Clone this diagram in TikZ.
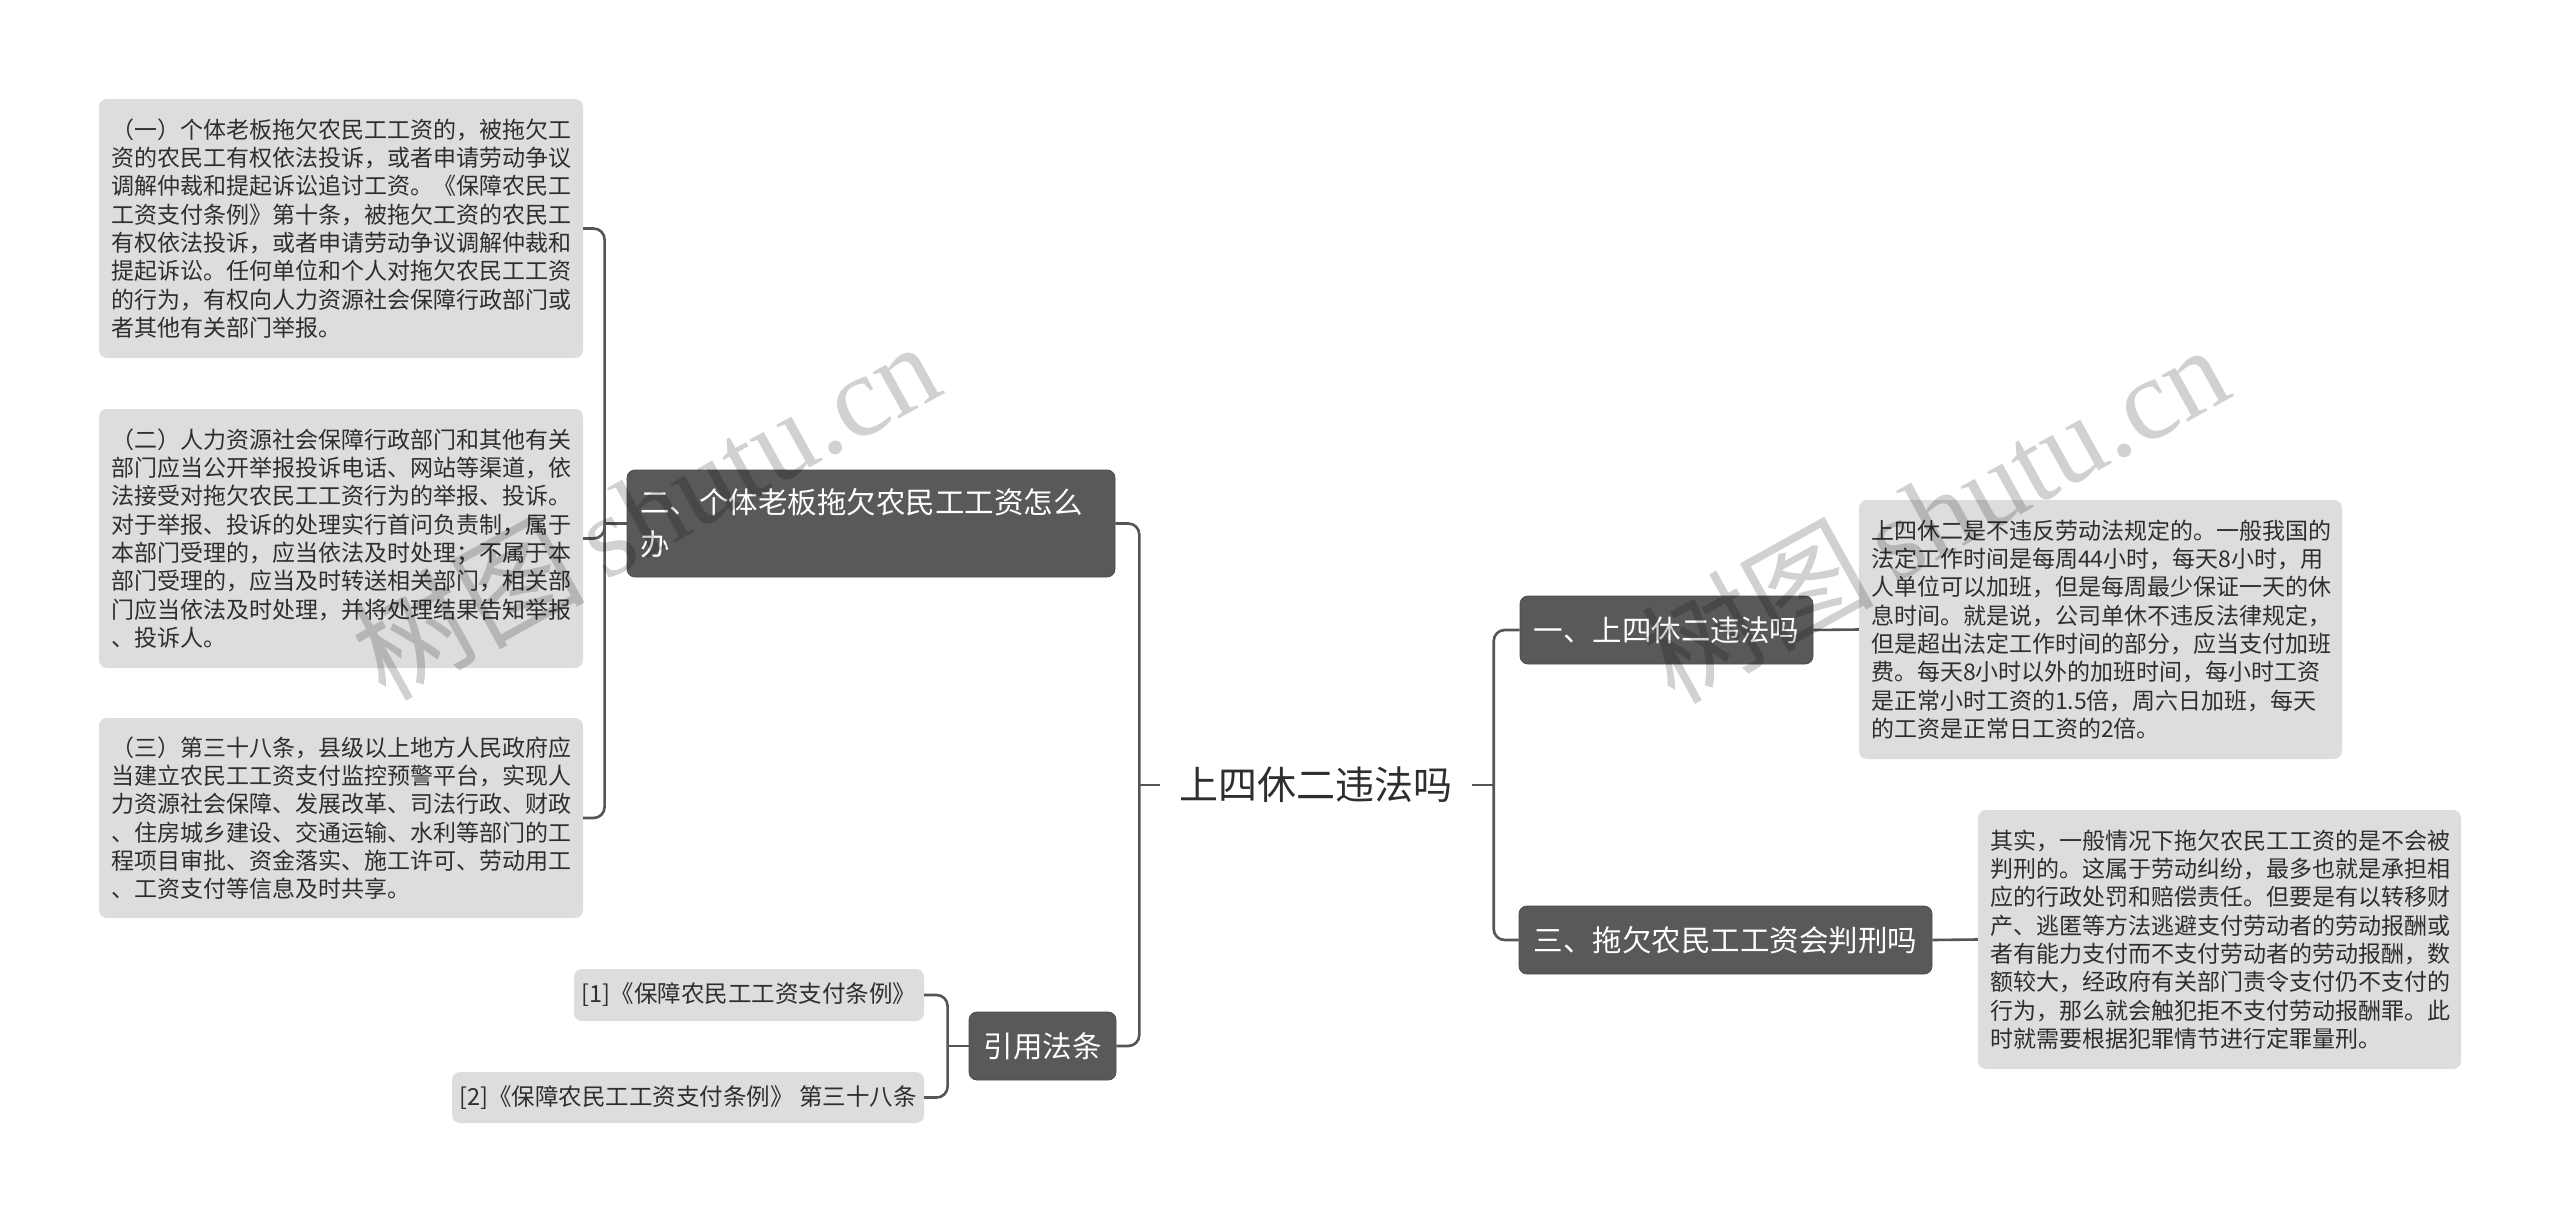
\documentclass[tikz,border=0pt]{standalone}
\usepackage{fontspec}
\setmainfont{Noto Sans CJK SC}
\newfontfamily\wmserif{Liberation Serif}
\usetikzlibrary{calc}
\definecolor{nodegray}{HTML}{595959}
\definecolor{leafgray}{HTML}{DDDDDD}
\definecolor{linegray}{HTML}{555555}
\definecolor{textdark}{HTML}{2E2E2E}
\begin{document}
\begin{tikzpicture}[x=1pt,y=-1pt,
  leaf/.style={rectangle, fill=leafgray, rounded corners=8pt, text=textdark,
    inner xsep=12pt, inner ysep=0pt, font=\fontsize{23}{28.3}\selectfont,
    align=left, text width=460pt},
  topic/.style={rectangle, fill=nodegray, draw=nodegray!85!black, line width=0.8pt,
    rounded corners=8pt, text=white, inner sep=0pt,
    font=\fontsize{29.5}{42}\selectfont, align=center},
  reflf/.style={rectangle, fill=leafgray, rounded corners=8pt, text=textdark,
    inner sep=0pt, font=\fontsize{23.5}{28}\selectfont},
  conn/.style={draw=linegray, line width=2.6pt, rounded corners=11pt},
  wmark/.style={text=black, text opacity=0.18, rotate=29, inner sep=0pt}
]
\useasboundingbox[fill=white] (0,0) rectangle (2560,1223);

% center
\node[text=textdark, font=\fontsize{39}{44}\selectfont, inner xsep=19pt, inner ysep=4pt] (c) at (1316,785) {上四休二违法吗};

% left topics
\node[topic, align=left, text width=462pt, inner xsep=13pt, minimum height=107pt] (n2) at (871,523.5)
  {二、个体老板拖欠农民工工资怎么\\办};
\node[topic, minimum width=147pt, minimum height=68pt] (ref) at (1042.5,1046) {引用法条};

% right topics
\node[topic, minimum width=293pt, minimum height=68pt] (n1) at (1666.5,630) {一、上四休二违法吗};
\node[topic, minimum width=413pt, minimum height=68pt] (n3) at (1725.5,940) {三、拖欠农民工工资会判刑吗};

% left leaves
\node[leaf, minimum height=259pt] (l1) at (341,228.5) {%
（一）个体老板拖欠农民工工资的，被拖欠工\\
资的农民工有权依法投诉，或者申请劳动争议\\
调解仲裁和提起诉讼追讨工资。《保障农民工\\
工资支付条例》第十条，被拖欠工资的农民工\\
有权依法投诉，或者申请劳动争议调解仲裁和\\
提起诉讼。任何单位和个人对拖欠农民工工资\\
的行为，有权向人力资源社会保障行政部门或\\
者其他有关部门举报。};
\node[leaf, minimum height=259pt] (l2) at (341,538.5) {%
（二）人力资源社会保障行政部门和其他有关\\
部门应当公开举报投诉电话、网站等渠道，依\\
法接受对拖欠农民工工资行为的举报、投诉。\\
对于举报、投诉的处理实行首问负责制，属于\\
本部门受理的，应当依法及时处理；不属于本\\
部门受理的，应当及时转送相关部门，相关部\\
门应当依法及时处理，并将处理结果告知举报\\
、投诉人。};
\node[leaf, minimum height=200pt] (l3) at (341,818) {%
（三）第三十八条，县级以上地方人民政府应\\
当建立农民工工资支付监控预警平台，实现人\\
力资源社会保障、发展改革、司法行政、财政\\
、住房城乡建设、交通运输、水利等部门的工\\
程项目审批、资金落实、施工许可、劳动用工\\
、工资支付等信息及时共享。};

% reference leaves
\node[reflf, minimum width=350pt, minimum height=52pt] (ref1) at (749,995) {[1]《保障农民工工资支付条例》};
\node[reflf, minimum width=472pt, minimum height=51pt] (ref2) at (688,1097.5) {[2]《保障农民工工资支付条例》 第三十八条};

% right leaves
\node[leaf, minimum height=259pt, text width=459pt] (r1) at (2100.5,629.5) {%
上四休二是不违反劳动法规定的。一般我国的\\
法定工作时间是每周44小时，每天8小时，用\\
人单位可以加班，但是每周最少保证一天的休\\
息时间。就是说，公司单休不违反法律规定，\\
但是超出法定工作时间的部分，应当支付加班\\
费。每天8小时以外的加班时间，每小时工资\\
是正常小时工资的1.5倍，周六日加班，每天\\
的工资是正常日工资的2倍。};
\node[leaf, minimum height=259pt, text width=459pt] (r3) at (2219.5,939.5) {%
其实，一般情况下拖欠农民工工资的是不会被\\
判刑的。这属于劳动纠纷，最多也就是承担相\\
应的行政处罚和赔偿责任。但要是有以转移财\\
产、逃匿等方法逃避支付劳动者的劳动报酬或\\
者有能力支付而不支付劳动者的劳动报酬，数\\
额较大，经政府有关部门责令支付仍不支付的\\
行为，那么就会触犯拒不支付劳动报酬罪。此\\
时就需要根据犯罪情节进行定罪量刑。};

% junction coordinates
\coordinate (jc) at ($(c.west)+(-21,0)$);
\coordinate (jr) at ($(c.east)+(22,0)$);
\coordinate (j2) at ($(n2.west)+(-22,0)$);
\coordinate (jf) at ($(ref.west)+(-21,0)$);

% connectors
\draw[conn] (c.west) -- (jc);
\draw[conn] (jc) |- (n2.east);
\draw[conn] (jc) |- (ref.east);
\draw[conn] (c.east) -- (jr);
\draw[conn] (jr) |- (n1.west);
\draw[conn] (jr) |- (n3.west);
\draw[conn] (n1.east) -- (r1.west);
\draw[conn] (n3.east) -- (r3.west);
\draw[conn] (n2.west) -- (j2);
\draw[conn] (j2) |- (l1.east);
\draw[conn] (j2) |- (l2.east);
\draw[conn] (j2) |- (l3.east);
\draw[conn] (ref.west) -- (jf);
\draw[conn] (jf) |- (ref1.east);
\draw[conn] (jf) |- (ref2.east);

% watermarks
\node[wmark] (wm1) at (645,509) {\fontsize{116}{116}\selectfont 树图\,{\wmserif shutu.cn}};
\node[wmark] (wm2) at (1934,512) {\fontsize{116}{116}\selectfont 树图\,{\wmserif shutu.cn}};
\end{tikzpicture}
\end{document}
